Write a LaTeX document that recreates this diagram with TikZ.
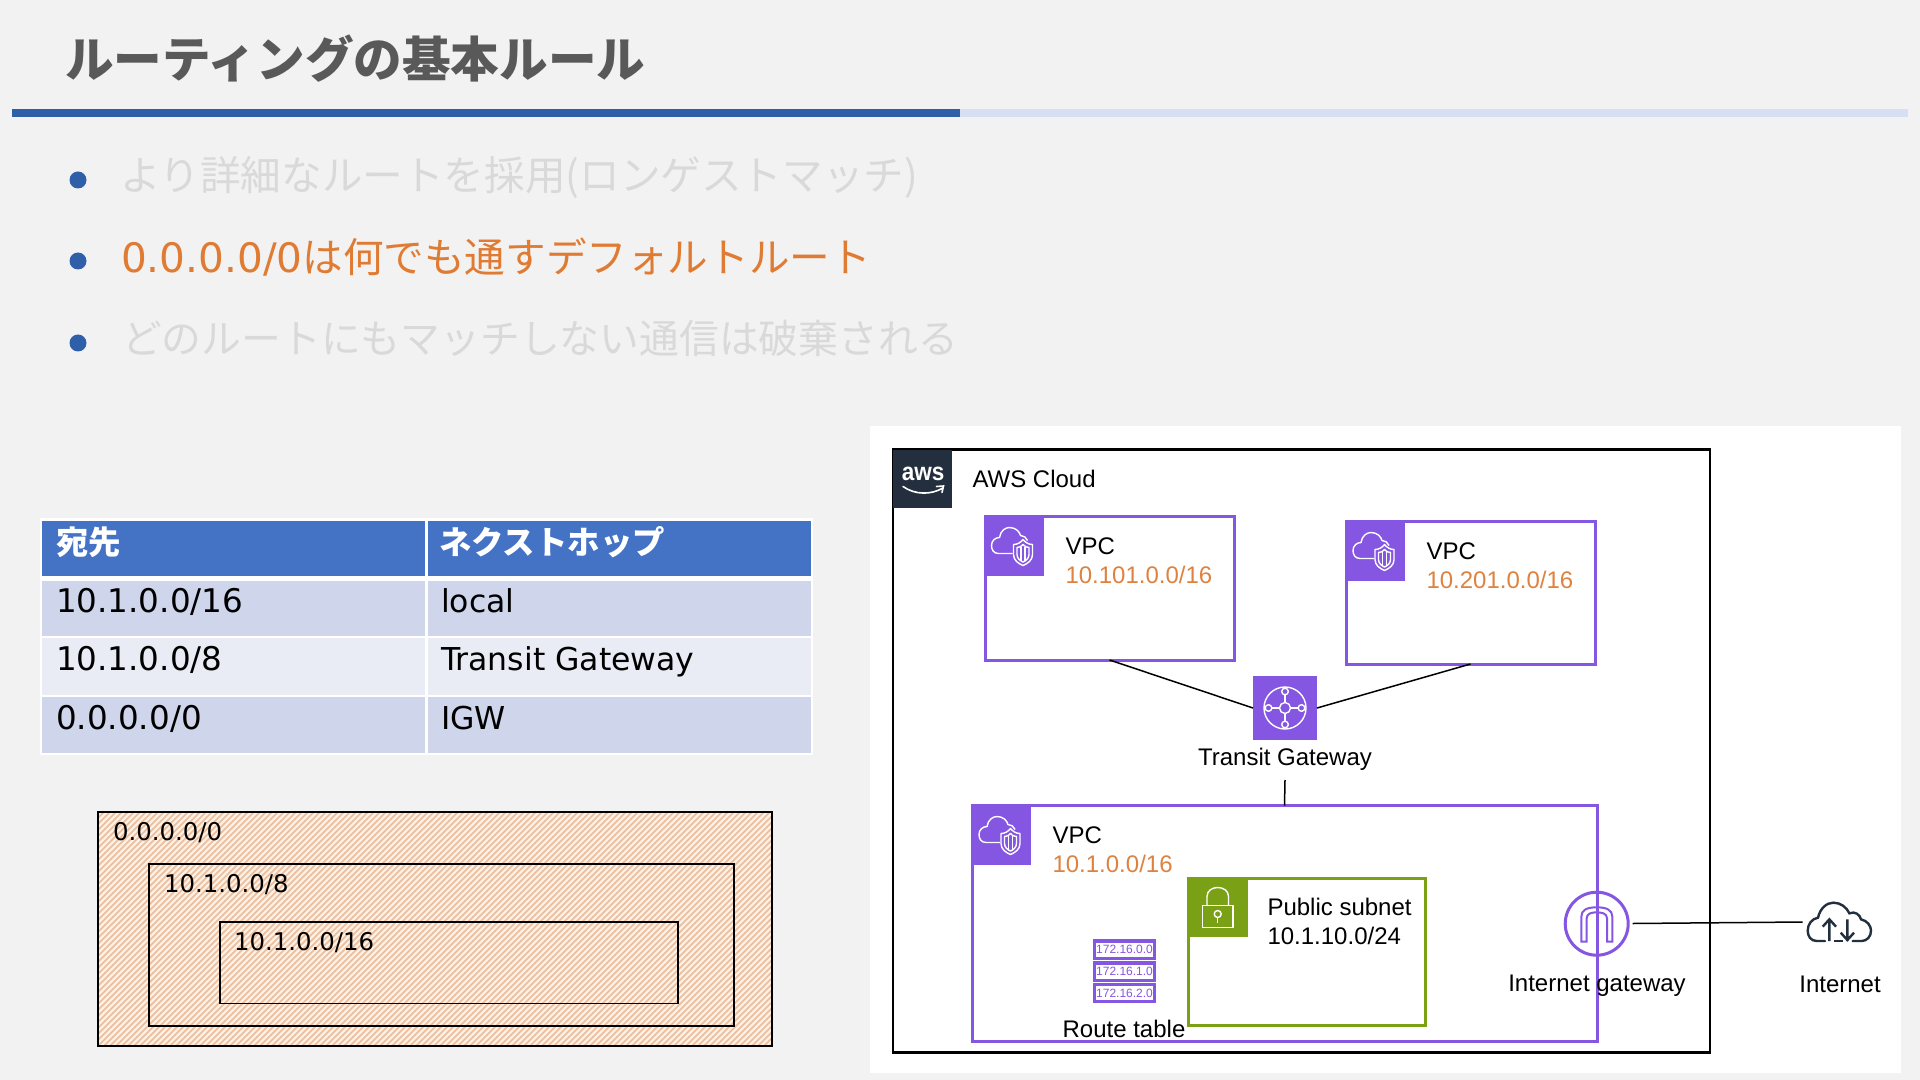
\documentclass[tikz,border=0pt]{standalone}
\usepackage{fontspec}
\usepackage{graphicx}
\setmainfont{Liberation Sans}
\newfontfamily\jpfont{Noto Sans CJK JP}
\newfontfamily\dvfont{DejaVu Sans}
\newcommand{\fsz}[1]{\fontsize{#1pt}{#1pt}\selectfont}
\definecolor{pagebg}{HTML}{F2F2F2}
\definecolor{rulea}{HTML}{2F5FA8}
\definecolor{ruleb}{HTML}{D6E0F2}
\definecolor{fadetxt}{HTML}{D9D9D9}
\definecolor{orangetxt}{HTML}{E07B33}
\definecolor{cidrtxt}{HTML}{DF8240}
\definecolor{titletxt}{HTML}{595959}
\definecolor{thead}{HTML}{4472C4}
\definecolor{rowa}{HTML}{CFD5EA}
\definecolor{rowb}{HTML}{E9EBF5}
\definecolor{awsdark}{HTML}{232F3E}
\definecolor{awspurple}{HTML}{8556E2}
\definecolor{awsgreen}{HTML}{7AA116}
\definecolor{hatchbg}{HTML}{FBF1E7}
\definecolor{hatchln}{HTML}{EBBD9B}
\tikzset{
  x=0.5pt,y=-0.5pt,
  tx/.style={inner sep=0pt,outer sep=0pt,anchor=base west},
  txc/.style={inner sep=0pt,outer sep=0pt,anchor=base},
  lbl/.style={tx,font=\fsz{12},text=black},
  lblc/.style={txc,font=\fsz{12},text=black},
  cidr/.style={tx,font=\fsz{12},text=cidrtxt},
  body/.style={tx,font=\jpfont\fsz{20.3}},
  bul/.style={circle,fill=rulea,minimum size=8.5pt,inner sep=0pt},
  tcell/.style={tx,font=\dvfont\fsz{16.3},text=black},
  tword/.style={tx,font=\dvfont\fsz{15.75},text=black},
  hcell/.style={tx,font=\jpfont\bfseries\fsz{16.2},text=white},
  hatchlbl/.style={tx,font=\dvfont\fsz{12.2},text=black},
  boxn/.style={draw,inner sep=0pt,outer sep=0pt},
  vpcbox/.style={boxn,draw=awspurple,line width=1.5pt,fill=white},
  icn/.style={draw=white,line width=0.7pt,line join=round},
  conn/.style={draw=black,line width=0.75pt},
  rt/.style={draw=awspurple,line width=1.6pt,fill=white,inner sep=0pt,outer sep=0pt,minimum width=30pt,minimum height=8.6pt,text=awspurple,font=\fsz{6}},
}
\newcommand{\vpcicon}[2]{%
  \fill[awspurple] (#1,#2) rectangle +(60,60);
  \begin{scope}[shift={(#1,#2)}]
    \draw[icn] (29,38) -- (15,38) .. controls (10,38) and (8,34) .. (8,30) .. controls (8,25) and (12,22) .. (16,22) .. controls (17,15) and (22,12) .. (26,12) .. controls (32,12) and (36,16) .. (37,20) .. controls (40,20) and (43,22) .. (44,25);
    \draw[icn] (30,29) .. controls (34,29) and (37,27) .. (39.5,24) .. controls (42,27) and (45,29) .. (49,29) -- (49,39) .. controls (49,45) and (44,48) .. (39.5,50) .. controls (35,48) and (30,45) .. (30,39) -- cycle;
    \draw[icn] (33.5,32) .. controls (36,32) and (38,31) .. (39.5,29) .. controls (41,31) and (43,32) .. (45.5,32) -- (45.5,39) .. controls (45.5,43) and (42,45.5) .. (39.5,46.5) .. controls (37,45.5) and (33.5,43) .. (33.5,39) -- cycle;
    \draw[icn] (37.5,31) -- (37.5,45.5) (41.5,31) -- (41.5,45.5);
  \end{scope}}
\begin{document}
\begin{tikzpicture}
\useasboundingbox (0,0) rectangle (1920,1080);
\fill[pagebg] (0,0) rectangle (1920,1080);
% title
\node[tx,font=\jpfont\bfseries\fsz{24.3},text=titletxt] (title) at (65,78) {ルーティングの基本ルール};
\fill[ruleb] (960,109) rectangle (1908,117);
\fill[rulea] (12,109) rectangle (960,117);
% bullets
\node[bul] (b1) at (78,180) {};
\node[bul] (b2) at (78,261) {};
\node[bul] (b3) at (78,343) {};
\node[body,text=fadetxt] (t1) at (120,191) {より詳細なルートを採用(ロンゲストマッチ)};
\node[body,text=orangetxt] (t2) at (121,273) {{\dvfont\fsz{20.3}0.0.0.0/0}は何でも通すデフォルトルート};
\node[body,font=\jpfont\fsz{19.9},text=fadetxt] (t3) at (122,353) {どのルートにもマッチしない通信は破棄される};
% table
\fill[white] (40,518) rectangle (813,755);
\fill[thead] (42,521) rectangle (425,576);
\fill[thead] (427.5,521) rectangle (811,576);
\fill[rowa] (42,581) rectangle (425,636);
\fill[rowa] (427.5,581) rectangle (811,636);
\fill[rowb] (42,638) rectangle (425,695);
\fill[rowb] (427.5,638) rectangle (811,695);
\fill[rowa] (42,697) rectangle (425,753);
\fill[rowa] (427.5,697) rectangle (811,753);
\node[hcell] (h1) at (56,554.5) {宛先};
\node[hcell] (h2) at (439,554.5) {ネクストホップ};
\node[tcell] (c11) at (56,612.5) {10.1.0.0/16};
\node[tword] (c12) at (441,612.5) {local};
\node[tcell] (c21) at (56,670.5) {10.1.0.0/8};
\node[tword] (c22) at (441,670.5) {Transit Gateway};
\node[tcell] (c31) at (56,729.5) {0.0.0.0/0};
\node[tword] (c32) at (441,729.5) {IGW};
% hatched nested prefixes
\begin{scope}
  \fill[hatchbg] (98,812) rectangle (772,1046);
  \clip (98,812) rectangle (772,1046);
  \foreach \k in {0,6,...,920} { \draw[hatchln,line width=0.75pt] (98+\k-234,1046) -- (98+\k,812); }
\end{scope}
\draw[black,line width=0.8pt] (98,812) rectangle (772,1046);
\draw[black,line width=0.8pt] (149,864) rectangle (734,1026);
\draw[black,line width=0.8pt] (220,922) rectangle (678,1003.5);
\node[hatchlbl] (p0) at (113,840) {0.0.0.0/0};
\node[hatchlbl] (p8) at (164,892) {10.1.0.0/8};
\node[hatchlbl] (p16) at (234,950) {10.1.0.0/16};
% white panel
\fill[white] (869.5,426) rectangle (1901,1073);
% AWS cloud
\node[boxn,draw=black,line width=1.3pt,anchor=north west,minimum width=408.5pt,minimum height=301.5pt] (cloud) at (893,449.5) {};
\fill[awsdark] (893,450) rectangle (952,508);
\node[txc,font=\fsz{12.5}\bfseries,text=white] (awslogo) at (923,480) {\scalebox{0.9}[1]{aws}};
\draw[white,line width=0.8pt,line cap=round] (903,486.5) .. controls (915,495) and (931,495) .. (943,488) (936.5,486.5) -- (943.5,486) -- (942,492.5);
\node[lbl] (cloudt) at (972.5,487) {AWS Cloud};
% VPC 1
\node[vpcbox,anchor=north west,minimum width=124.5pt,minimum height=72pt] (vpc1) at (985,516) {};
\vpcicon{983.5}{515.5}
\node[lbl] (vpc1a) at (1065.5,554) {VPC};
\node[cidr] (vpc1b) at (1065.5,583) {10.101.0.0/16};
% VPC 2
\node[vpcbox,anchor=north west,minimum width=124.5pt,minimum height=71.5pt] (vpc2) at (1346,521) {};
\vpcicon{1345}{520.5}
\node[lbl] (vpc2a) at (1426.5,559) {VPC};
\node[cidr] (vpc2b) at (1426.5,588) {10.201.0.0/16};
% TGW
\node[fill=awspurple,inner sep=0pt,outer sep=0pt,minimum size=32pt] (tgw) at (1285,708) {};
\begin{scope}[shift={(1285,708)}]
  \draw[icn] (0,0) circle[radius=21];
  \draw[icn] (-16.5,0) -- (16.5,0) (0,-16.5) -- (0,16.5);
  \foreach \p in {(0,-16.5),(0,16.5),(-16.5,0),(16.5,0)} { \draw[icn,fill=awspurple] \p circle[radius=3.3]; }
  \draw[icn,fill=awspurple] (0,0) circle[radius=5.5];
\end{scope}
\node[lblc] (tgwl) at (1285,765) {Transit Gateway};
\coordinate (tgwbot) at (1285,780);
\draw[conn] (vpc1.south) -- (tgw.west);
\draw[conn] (vpc2.south) -- (tgw.east);
% Main VPC
\node[vpcbox,anchor=north west,minimum width=312.5pt,minimum height=118pt] (vpc0) at (972,805.5) {};
\draw[conn] (tgwbot) -- (vpc0.north);
\vpcicon{971}{804.5}
\node[lbl] (vpc0a) at (1052.5,843) {VPC};
\node[cidr] (vpc0b) at (1052.5,872) {10.1.0.0/16};
% subnet
\node[boxn,draw=awsgreen,line width=1.5pt,anchor=north west,minimum width=118.5pt,minimum height=73.5pt] (sub) at (1188,878) {};
\fill[awsgreen] (1187,877.5) rectangle (1247.5,937);
\begin{scope}[shift={(1187,877.5)}]
  \draw[icn] (15.5,28) rectangle (46,50);
  \draw[icn] (20,28) -- (20,19) .. controls (20,7) and (41.5,7) .. (41.5,19) -- (41.5,28);
  \draw[icn] (30.7,36.5) circle[radius=3.5];
  \draw[icn] (30.7,40) -- (30.7,45.5);
\end{scope}
\node[lbl] (sub1) at (1267.5,915) {Public subnet};
\node[lbl] (sub2) at (1267.5,944) {10.1.10.0/24};
% route table
\node[rt] (rt1) at (1124.5,949.5) {172.16.0.0};
\node[rt] (rt2) at (1124.5,971.5) {172.16.1.0};
\node[rt] (rt3) at (1124.5,993) {172.16.2.0};
\node[lblc] (rtl) at (1124,1037.5) {Route table};
% IGW
\node[circle,draw=awspurple,line width=1.5pt,minimum size=31.5pt,inner sep=0pt,outer sep=0pt] (igw) at (1596.7,923.7) {};
\begin{scope}[shift={(1480,860)},x=0.16667pt,y=-0.16667pt]
  \draw[awspurple,line width=1pt,line join=miter] (304,245) -- (304,170) .. controls (304,150) and (320,142) .. (350,142) .. controls (380,142) and (397,150) .. (397,170) -- (397,245) -- (381,245) -- (381,175) .. controls (381,160) and (365,157) .. (350,157) .. controls (335,157) and (320,160) .. (320,175) -- (320,245) -- cycle;
\end{scope}
\node[lblc] (igwl) at (1597,991) {Internet gateway};
% Internet
\begin{scope}[shift={(1480,860)},x=0.16667pt,y=-0.16667pt]
  \draw[awsdark,line width=1.2pt,line cap=round] (1035,243) -- (1010,243) .. controls (992,243) and (983,228) .. (983,212) .. controls (983,192) and (996,176) .. (1014,173) .. controls (1020,145) and (1040,128) .. (1060,128) .. controls (1082,128) and (1100,142) .. (1108,160) .. controls (1125,152) and (1140,165) .. (1143,178) .. controls (1162,182) and (1173,198) .. (1173,212) .. controls (1173,230) and (1160,243) .. (1145,243) -- (1118,243);
  \draw[awsdark,line width=1.2pt] (1048,243) -- (1048,178) (1028,200) -- (1048,178) -- (1068,200);
  \draw[awsdark,line width=1.2pt] (1102,178) -- (1102,243) (1082,218) -- (1102,240) -- (1122,218);
  \draw[awsdark,line width=1.2pt] (1062,243) -- (1088,243);
\end{scope}
\node[lblc] (inetl) at (1840,992) {Internet};
\coordinate (igwr) at (1632.7,923.5);
\coordinate (inetw) at (1802.7,922);
\draw[conn] (igwr) -- (inetw);
\end{tikzpicture}
\end{document}
